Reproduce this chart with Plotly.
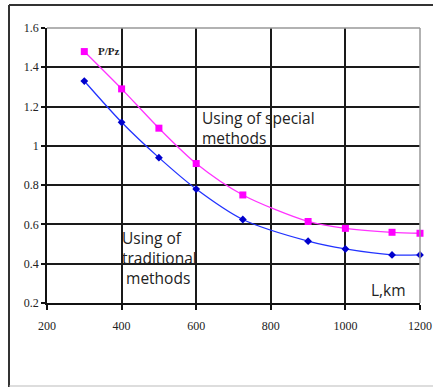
import plotly.graph_objects as go

distance_km = [300, 400, 500, 600, 725, 900, 1000, 1125, 1200]
special = [1.48, 1.29, 1.09, 0.91, 0.75, 0.615, 0.58, 0.56, 0.555]
traditional = [1.33, 1.12, 0.94, 0.78, 0.625, 0.515, 0.475, 0.445, 0.445]

x_ticks = [200, 400, 600, 800, 1000, 1200]
x_labels = ["200", "400", "600", "800", "1000", "1200"]
y_ticks = [0.2, 0.4, 0.6, 0.8, 1.0, 1.2, 1.4, 1.6]
y_labels = ["0.2", "0.4", "0.6", "0.8", "1", "1.2", "1.4", "1.6"]

W, H = 433, 387
L, R, T, B = 47, 13, 28, 84
pw, ph = W - L - R, H - T - B

def px(x):
    return (x - L) / pw

def py(y):
    return (H - B - y) / ph

fig = go.Figure()
fig.add_trace(go.Scatter(
    x=distance_km, y=special, mode="lines+markers",
    line=dict(color="#ff33ff", width=1.3, shape="spline", smoothing=0.8),
    marker=dict(symbol="square", size=7, color="#ff00ff"),
    showlegend=False, cliponaxis=False))
fig.add_trace(go.Scatter(
    x=distance_km, y=traditional, mode="lines+markers",
    line=dict(color="#2233ff", width=1.3, shape="spline", smoothing=0.8),
    marker=dict(symbol="diamond", size=6, color="#0000cc"),
    showlegend=False, cliponaxis=False))

tickfont = dict(family="Liberation Serif", size=12, color="#222")
fig.update_xaxes(range=[200, 1200], tickvals=x_ticks, ticktext=x_labels,
                 showgrid=True, gridcolor="#1a1a1a", gridwidth=1.6,
                 showline=True, linecolor="#111", linewidth=1.6,
                 ticks="outside", ticklen=5, tickcolor="#111", tickwidth=1.5,
                 ticklabelstandoff=6,
                 tickfont=tickfont, zeroline=False, automargin=False)
fig.update_yaxes(range=[0.2, 1.6], tickvals=y_ticks, ticktext=y_labels,
                 showgrid=True, gridcolor="#1a1a1a", gridwidth=1.6,
                 showline=True, linecolor="#111", linewidth=1.6,
                 ticks="outside", ticklen=4, tickcolor="#111", tickwidth=1.5,
                 tickfont=tickfont, zeroline=False, automargin=False)

shapes = [
    dict(type="line", xref="paper", yref="paper", x0=1, x1=1, y0=0, y1=1,
         line=dict(color="#999", width=1.5)),
    dict(type="line", xref="paper", yref="paper", x0=0, x1=1, y0=1, y1=1,
         line=dict(color="#999", width=1.5)),
    dict(type="line", xref="paper", yref="paper", x0=px(9), x1=px(433), y0=py(5), y1=py(5),
         line=dict(color="#333", width=2)),
    dict(type="line", xref="paper", yref="paper", x0=px(9), x1=px(9), y0=py(5), y1=py(387),
         line=dict(color="#333", width=2)),
    dict(type="line", xref="paper", yref="paper", x0=px(9), x1=px(433), y0=py(386), y1=py(386),
         line=dict(color="#bbb", width=1)),
]

sans = dict(family="Open Sans", size=15.5, color="#222")
annotations = [
    dict(x=px(96), y=py(51), xref="paper", yref="paper", text="<b>P/Pz</b>",
         showarrow=False, xanchor="left", yanchor="middle",
         font=dict(family="Liberation Serif", size=11, color="#222")),
    dict(x=px(200), y=py(128), xref="paper", yref="paper",
         text="Using of special<br>methods", showarrow=False, align="left",
         xanchor="left", yanchor="middle", font=sans),
    dict(x=px(120), y=py(258), xref="paper", yref="paper",
         text="Using of<br>traditional<br> methods", showarrow=False, align="left",
         xanchor="left", yanchor="middle", font=sans),
    dict(x=px(369), y=py(290), xref="paper", yref="paper", text="L,km",
         showarrow=False, xanchor="left", yanchor="middle", font=sans),
]

fig.update_layout(width=W, height=H, margin=dict(l=L, r=R, t=T, b=B),
                  paper_bgcolor="white", plot_bgcolor="white",
                  shapes=shapes, annotations=annotations)

fig.write_html("out.html")
